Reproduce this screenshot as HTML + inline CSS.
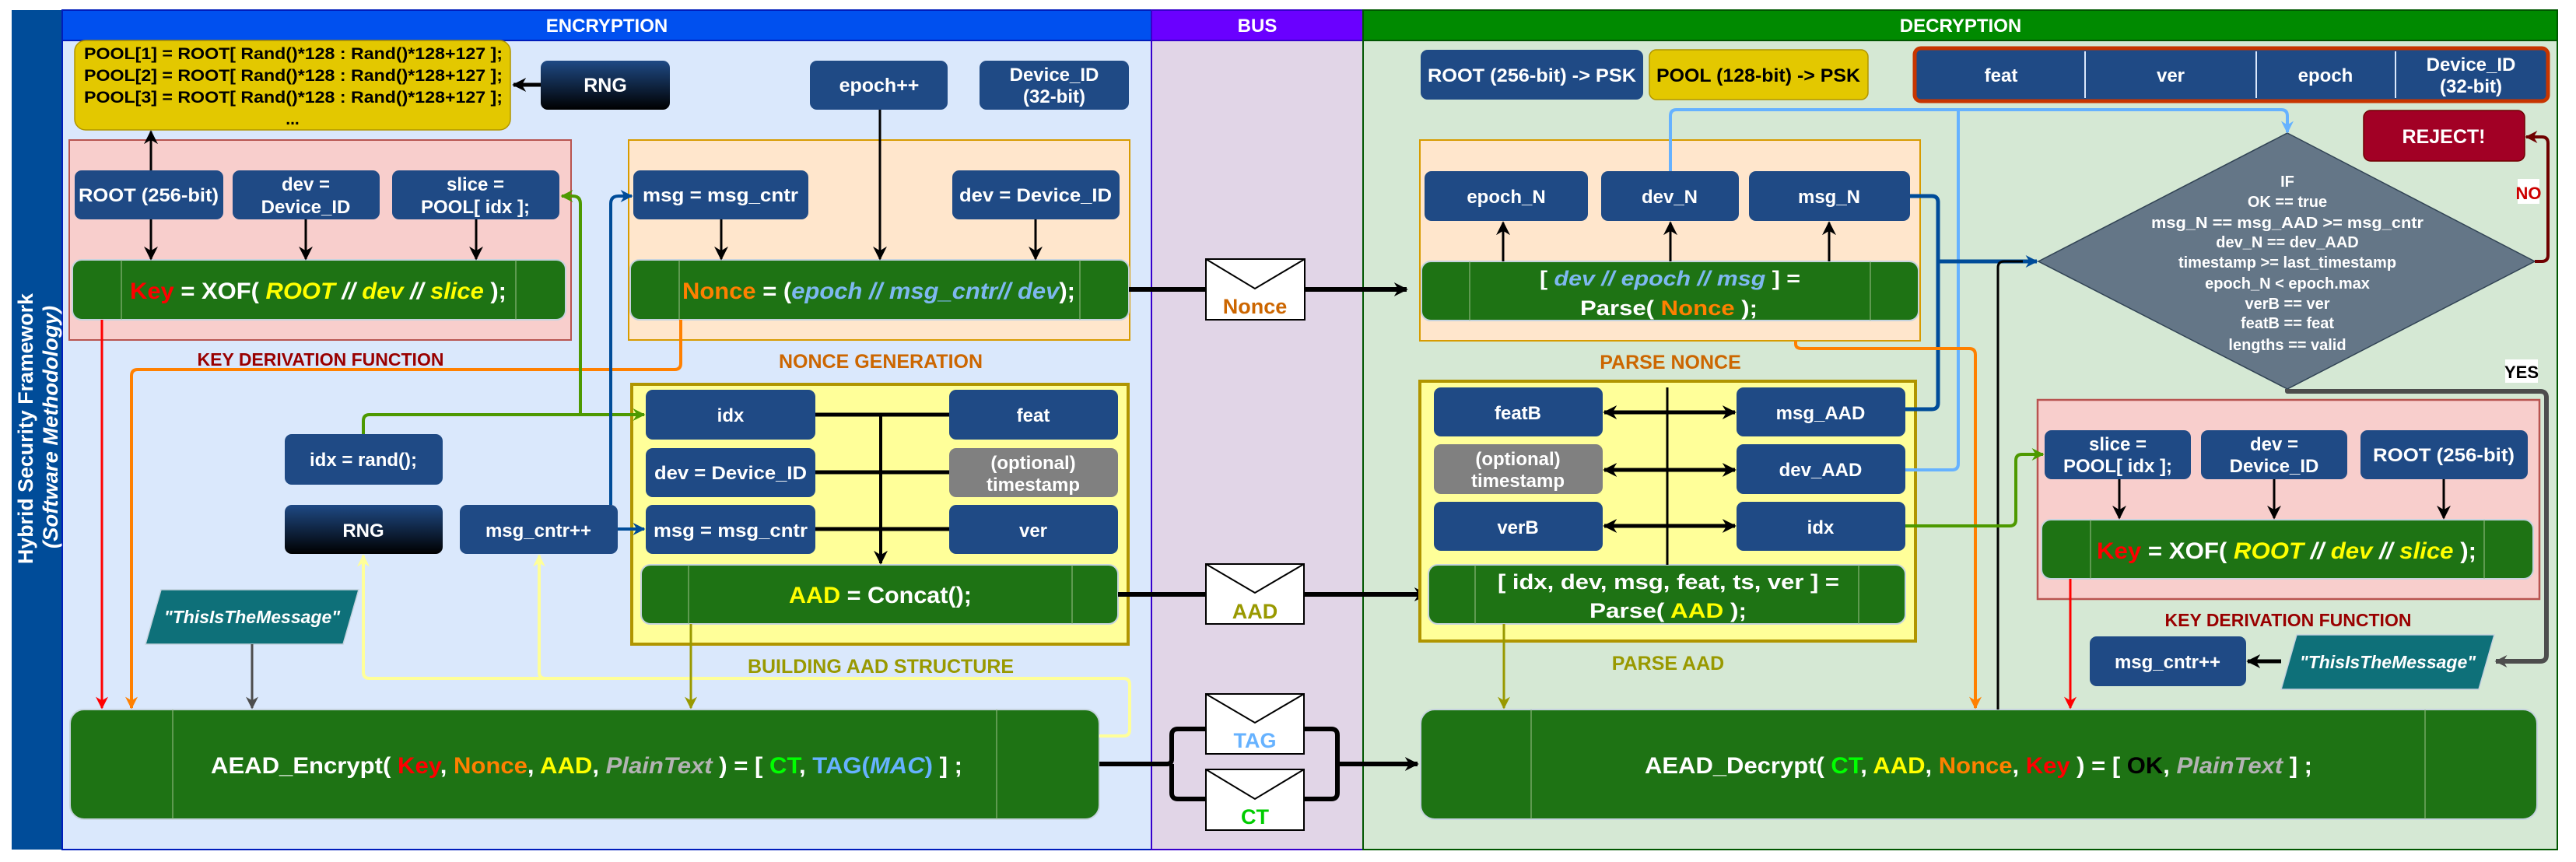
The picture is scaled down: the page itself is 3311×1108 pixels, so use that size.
<!DOCTYPE html>
<html><head><meta charset="utf-8"><style>
html,body{margin:0;padding:0;background:#fff}
svg{display:block}
text{font-family:"Liberation Sans",Arial,sans-serif;font-weight:bold}
.w{fill:#fff}
</style></head><body>
<svg width="3311" height="1108" viewBox="0 0 3311 1108" xmlns="http://www.w3.org/2000/svg">
<defs>
<marker id="mk" viewBox="0 0 10 10" refX="9" refY="5" markerWidth="18" markerHeight="20" orient="auto-start-reverse" markerUnits="userSpaceOnUse"><path d="M0,0 L10,5 L0,10 L3,5 z" fill="#000"/></marker>
<marker id="mr" viewBox="0 0 10 10" refX="9" refY="5" markerWidth="16" markerHeight="18" orient="auto" markerUnits="userSpaceOnUse"><path d="M0,0 L10,5 L0,10 L3,5 z" fill="#f00"/></marker>
<marker id="mo" viewBox="0 0 10 10" refX="9" refY="5" markerWidth="16" markerHeight="18" orient="auto" markerUnits="userSpaceOnUse"><path d="M0,0 L10,5 L0,10 L3,5 z" fill="#FF8000"/></marker>
<marker id="mol" viewBox="0 0 10 10" refX="9" refY="5" markerWidth="16" markerHeight="18" orient="auto" markerUnits="userSpaceOnUse"><path d="M0,0 L10,5 L0,10 L3,5 z" fill="#999900"/></marker>
<marker id="mg" viewBox="0 0 10 10" refX="9" refY="5" markerWidth="16" markerHeight="18" orient="auto" markerUnits="userSpaceOnUse"><path d="M0,0 L10,5 L0,10 L3,5 z" fill="#4D4D4D"/></marker>
<marker id="my" viewBox="0 0 10 10" refX="9" refY="5" markerWidth="16" markerHeight="18" orient="auto" markerUnits="userSpaceOnUse"><path d="M0,0 L10,5 L0,10 L3,5 z" fill="#FFFF99"/></marker>
<marker id="mgr" viewBox="0 0 10 10" refX="9" refY="5" markerWidth="16" markerHeight="18" orient="auto" markerUnits="userSpaceOnUse"><path d="M0,0 L10,5 L0,10 L3,5 z" fill="#4D9900"/></marker>
<marker id="mb" viewBox="0 0 10 10" refX="9" refY="5" markerWidth="16" markerHeight="18" orient="auto" markerUnits="userSpaceOnUse"><path d="M0,0 L10,5 L0,10 L3,5 z" fill="#004C99"/></marker>
<marker id="mlb" viewBox="0 0 10 10" refX="9" refY="5" markerWidth="16" markerHeight="18" orient="auto" markerUnits="userSpaceOnUse"><path d="M0,0 L10,5 L0,10 L3,5 z" fill="#66B2FF"/></marker>
<marker id="mdr" viewBox="0 0 10 10" refX="9" refY="5" markerWidth="16" markerHeight="18" orient="auto" markerUnits="userSpaceOnUse"><path d="M0,0 L10,5 L0,10 L3,5 z" fill="#6F0000"/></marker>
<linearGradient id="rng" x1="0" y1="0" x2="0" y2="1"><stop offset="0" stop-color="#1F4A85"/><stop offset="1" stop-color="#000"/></linearGradient>
</defs>

<rect x="15" y="13" width="65" height="1079" fill="#004C99"/>
<rect x="80" y="13" width="1400" height="39" fill="#0050EF" stroke="#001DBC" stroke-width="2"/>
<rect x="80" y="52" width="1400" height="1040" fill="#DAE8FC" stroke="#001DBC" stroke-width="2"/>
<rect x="1480" y="13" width="272" height="39" fill="#6A00FF" stroke="#3700CC" stroke-width="2"/>
<rect x="1480" y="52" width="272" height="1040" fill="#E1D5E7" stroke="#3700CC" stroke-width="2"/>
<rect x="1752" y="13" width="1535" height="39" fill="#008A00" stroke="#005700" stroke-width="2"/>
<rect x="1752" y="52" width="1535" height="1040" fill="#D5E8D4" stroke="#005700" stroke-width="2"/>
<text x="780" y="41" class="w" font-size="24" text-anchor="middle">ENCRYPTION</text>
<text x="1616" y="41" class="w" font-size="24" text-anchor="middle">BUS</text>
<text x="2520" y="41" class="w" font-size="24" text-anchor="middle">DECRYPTION</text>
<text transform="translate(42,551) rotate(-90)" class="w" font-size="27" text-anchor="middle" textLength="348" lengthAdjust="spacingAndGlyphs">Hybrid Security Framework</text>
<text transform="translate(74,549) rotate(-90)" class="w" font-size="27" font-style="italic" text-anchor="middle" textLength="312" lengthAdjust="spacingAndGlyphs">(Software Methodology)</text>

<rect x="96" y="52" width="560" height="115" rx="14" fill="#E3C800" stroke="#B09500" stroke-width="1.5"/>
<g font-size="21" fill="#000">
<text x="108" y="76" textLength="538" lengthAdjust="spacingAndGlyphs">POOL[1] = ROOT[ Rand()*128 : Rand()*128+127 ];</text>
<text x="108" y="104" textLength="538" lengthAdjust="spacingAndGlyphs">POOL[2] = ROOT[ Rand()*128 : Rand()*128+127 ];</text>
<text x="108" y="132" textLength="538" lengthAdjust="spacingAndGlyphs">POOL[3] = ROOT[ Rand()*128 : Rand()*128+127 ];</text>
<text x="376" y="160" text-anchor="middle">...</text>
</g>
<rect x="695" y="78" width="166" height="63" rx="9" fill="url(#rng)"/>
<text x="778" y="118" class="w" font-size="25" text-anchor="middle">RNG</text>
<rect x="1041" y="78" width="177" height="63" rx="9" fill="#1F4A85"/>
<text x="1130" y="118" class="w" font-size="25" text-anchor="middle">epoch++</text>
<rect x="1259" y="78" width="192" height="63" rx="9" fill="#1F4A85"/>
<text x="1355" y="104" class="w" font-size="24" text-anchor="middle">Device_ID</text>
<text x="1355" y="132" class="w" font-size="24" text-anchor="middle">(32-bit)</text>

<rect x="89" y="180" width="645" height="257" fill="#F8CECC" stroke="#B85450" stroke-width="2"/>
<rect x="96" y="219" width="191" height="63" rx="9" fill="#1F4A85"/>
<text x="191" y="259" class="w" font-size="24" text-anchor="middle" textLength="180" lengthAdjust="spacingAndGlyphs">ROOT (256-bit)</text>
<rect x="299" y="219" width="189" height="63" rx="9" fill="#1F4A85"/>
<text x="393" y="245" class="w" font-size="24" text-anchor="middle">dev =</text>
<text x="393" y="274" class="w" font-size="24" text-anchor="middle">Device_ID</text>
<rect x="504" y="219" width="215" height="63" rx="9" fill="#1F4A85"/>
<text x="611" y="245" class="w" font-size="24" text-anchor="middle">slice =</text>
<text x="611" y="274" class="w" font-size="24" text-anchor="middle">POOL[ idx ];</text>
<rect x="93" y="334" width="634" height="77" rx="12" fill="#1E7314" stroke="#C6D3DE" stroke-width="2"/>
<line x1="156" y1="334" x2="156" y2="411" stroke="#9DC08B" stroke-width="1"/>
<line x1="663" y1="334" x2="663" y2="411" stroke="#9DC08B" stroke-width="1"/>
<text x="167" y="384" font-size="30" textLength="484" lengthAdjust="spacingAndGlyphs"><tspan fill="#f00">Key</tspan><tspan fill="#fff"> = XOF( </tspan><tspan fill="#ff0" font-style="italic">ROOT </tspan><tspan fill="#fff" font-style="italic">// </tspan><tspan fill="#ff0" font-style="italic"> dev </tspan><tspan fill="#fff" font-style="italic">// </tspan><tspan fill="#ff0" font-style="italic">slice</tspan><tspan fill="#fff"> );</tspan></text>
<text x="412" y="470" font-size="23" fill="#990000" text-anchor="middle">KEY DERIVATION FUNCTION</text>

<rect x="808" y="180" width="644" height="257" fill="#FFE6CC" stroke="#D79B00" stroke-width="2"/>
<rect x="814" y="219" width="225" height="63" rx="9" fill="#1F4A85"/>
<text x="926" y="259" class="w" font-size="24" text-anchor="middle" textLength="200" lengthAdjust="spacingAndGlyphs">msg = msg_cntr</text>
<rect x="1224" y="219" width="215" height="63" rx="9" fill="#1F4A85"/>
<text x="1331" y="259" class="w" font-size="24" text-anchor="middle" textLength="196" lengthAdjust="spacingAndGlyphs">dev = Device_ID</text>
<rect x="810" y="334" width="641" height="77" rx="12" fill="#1E7314" stroke="#C6D3DE" stroke-width="2"/>
<line x1="873" y1="334" x2="873" y2="411" stroke="#9DC08B" stroke-width="1"/>
<line x1="1388" y1="334" x2="1388" y2="411" stroke="#9DC08B" stroke-width="1"/>
<text x="877" y="384" font-size="30" textLength="505" lengthAdjust="spacingAndGlyphs"><tspan fill="#FF8000">Nonce</tspan><tspan fill="#fff"> = (</tspan><tspan fill="#7EB8F0" font-style="italic">epoch //  msg_cntr// dev</tspan><tspan fill="#fff">);</tspan></text>
<text x="1132" y="473" font-size="25" fill="#CC6600" text-anchor="middle">NONCE GENERATION</text>

<rect x="812" y="494" width="638" height="334" fill="#FFFF99" stroke="#B09500" stroke-width="4"/>
<g font-size="24" class="w" text-anchor="middle">
<rect x="830" y="501" width="218" height="64" rx="9" fill="#1F4A85"/><text x="939" y="542" class="w">idx</text>
<rect x="1220" y="501" width="217" height="64" rx="9" fill="#1F4A85"/><text x="1328" y="542" class="w">feat</text>
<rect x="830" y="576" width="218" height="63" rx="9" fill="#1F4A85"/><text x="939" y="616" class="w" textLength="196" lengthAdjust="spacingAndGlyphs">dev = Device_ID</text>
<rect x="1220" y="576" width="217" height="63" rx="9" fill="#808080"/><text x="1328" y="603" class="w">(optional)</text><text x="1328" y="631" class="w">timestamp</text>
<rect x="830" y="649" width="218" height="63" rx="9" fill="#1F4A85"/><text x="939" y="690" class="w" textLength="198" lengthAdjust="spacingAndGlyphs">msg = msg_cntr</text>
<rect x="1220" y="649" width="217" height="63" rx="9" fill="#1F4A85"/><text x="1328" y="690" class="w">ver</text>
<rect x="366" y="558" width="203" height="65" rx="9" fill="#1F4A85"/><text x="467" y="599" class="w">idx = rand();</text>
<rect x="366" y="649" width="203" height="63" rx="9" fill="url(#rng)"/><text x="467" y="690" class="w">RNG</text>
<rect x="591" y="649" width="203" height="63" rx="9" fill="#1F4A85"/><text x="692" y="690" class="w">msg_cntr++</text>
</g>
<rect x="824" y="726" width="613" height="76" rx="12" fill="#1E7314" stroke="#C6D3DE" stroke-width="2"/>
<line x1="885" y1="726" x2="885" y2="802" stroke="#9DC08B" stroke-width="1"/>
<line x1="1378" y1="726" x2="1378" y2="802" stroke="#9DC08B" stroke-width="1"/>
<text x="1014" y="775" font-size="30" textLength="235" lengthAdjust="spacingAndGlyphs"><tspan fill="#ff0">AAD</tspan><tspan fill="#fff"> = Concat();</tspan></text>
<text x="1132" y="865" font-size="25" fill="#999900" text-anchor="middle">BUILDING AAD STRUCTURE</text>

<polygon points="207,758 461,758 441,828 187,828" fill="#0E7079" stroke="#C6D3DE" stroke-width="1.5"/>
<text x="324" y="801" class="w" font-size="23" font-style="italic" text-anchor="middle">"ThisIsTheMessage"</text>

<rect x="90" y="912" width="1323" height="141" rx="18" fill="#1E7314" stroke="#C6D3DE" stroke-width="2"/>
<line x1="222" y1="912" x2="222" y2="1053" stroke="#9DC08B" stroke-width="1"/>
<line x1="1281" y1="912" x2="1281" y2="1053" stroke="#9DC08B" stroke-width="1"/>
<text x="271" y="994" font-size="30" textLength="966" lengthAdjust="spacingAndGlyphs"><tspan fill="#fff">AEAD_Encrypt( </tspan><tspan fill="#f00">Key</tspan><tspan fill="#fff">, </tspan><tspan fill="#FF8000">Nonce</tspan><tspan fill="#fff">, </tspan><tspan fill="#ff0">AAD</tspan><tspan fill="#fff">, </tspan><tspan fill="#B3B3B3" font-style="italic">PlainText</tspan><tspan fill="#fff"> ) = [ </tspan><tspan fill="#0f0">CT</tspan><tspan fill="#fff">, </tspan><tspan fill="#66B2FF">TAG(</tspan><tspan fill="#66B2FF" font-style="italic">MAC</tspan><tspan fill="#66B2FF">)</tspan><tspan fill="#fff"> ] ;</tspan></text>

<g fill="none" stroke-linejoin="round">
<path d="M695,109 H660" stroke="#000" stroke-width="5" marker-end="url(#mk)"/>
<path d="M194,219 V169" stroke="#000" stroke-width="3" marker-end="url(#mk)"/>
<path d="M194,282 V333" stroke="#000" stroke-width="3" marker-end="url(#mk)"/>
<path d="M393,282 V333" stroke="#000" stroke-width="3" marker-end="url(#mk)"/>
<path d="M612,282 V333" stroke="#000" stroke-width="3" marker-end="url(#mk)"/>
<path d="M927,282 V333" stroke="#000" stroke-width="3" marker-end="url(#mk)"/>
<path d="M1331,282 V333" stroke="#000" stroke-width="3" marker-end="url(#mk)"/>
<path d="M1131,141 V333" stroke="#000" stroke-width="3" marker-end="url(#mk)"/>
<path d="M131,411 V910" stroke="#f00" stroke-width="3" marker-end="url(#mr)"/>
<path d="M875,411 V467 Q875,475 867,475 H177 Q169,475 169,483 V910" stroke="#FF8000" stroke-width="4" marker-end="url(#mo)"/>
<path d="M467,558 V541 Q467,533 475,533 H828" stroke="#4D9900" stroke-width="4" marker-end="url(#mgr)"/>
<path d="M746,533 V262 Q746,252 736,252 H722" stroke="#4D9900" stroke-width="4" marker-end="url(#mgr)"/>
<path d="M785,649 V262 Q785,252 795,252 H812" stroke="#004C99" stroke-width="4" marker-end="url(#mb)"/>
<path d="M794,680 H828" stroke="#004C99" stroke-width="4" marker-end="url(#mb)"/>
<path d="M1413,946 H1444 Q1452,946 1452,938 V880 Q1452,872 1444,872 H475 Q467,872 467,864 V714" stroke="#FFFF99" stroke-width="4" marker-end="url(#my)"/>
<path d="M701,872 Q693,872 693,864 V714" stroke="#FFFF99" stroke-width="4" marker-end="url(#my)"/>
<path d="M324,828 V910" stroke="#4D4D4D" stroke-width="3" marker-end="url(#mg)"/>
<path d="M888,802 V910" stroke="#999900" stroke-width="3" marker-end="url(#mol)"/>
<path d="M1048,533 H1220 M1048,607 H1220 M1048,680 H1220" stroke="#000" stroke-width="5"/>
<path d="M1132,533 V724" stroke="#000" stroke-width="4" marker-end="url(#mk)"/>
</g>

<g fill="none" stroke-linejoin="round">
<path d="M1451,372 H1550 M1677,372 H1808" stroke="#000" stroke-width="6"/>
<path d="M1700,372 H1808" stroke="#000" stroke-width="6" marker-end="url(#mk)"/>
<path d="M1437,764 H1550 M1676,764 H1834" stroke="#000" stroke-width="6"/>
<path d="M1700,764 H1834" stroke="#000" stroke-width="6" marker-end="url(#mk)"/>
<path d="M1413,982 H1500 Q1506,982 1506,976 V945 Q1506,937 1514,937 H1550 M1506,982 V1019 Q1506,1027 1514,1027 H1550" stroke="#000" stroke-width="6"/>
<path d="M1676,937 H1711 Q1719,937 1719,945 V1019 Q1719,1027 1711,1027 H1676 M1719,982 H1822" stroke="#000" stroke-width="6"/>
<path d="M1740,982 H1822" stroke="#000" stroke-width="6" marker-end="url(#mk)"/>
</g>
<g stroke="#000" stroke-width="2" fill="#fff">
<rect x="1550" y="333" width="127" height="78"/><polyline points="1550,333 1613,371 1677,333" fill="none"/>
<rect x="1550" y="725" width="126" height="77"/><polyline points="1550,725 1613,762 1676,725" fill="none"/>
<rect x="1550" y="892" width="126" height="77"/><polyline points="1550,892 1613,929 1676,892" fill="none"/>
<rect x="1550" y="989" width="126" height="78"/><polyline points="1550,989 1613,1027 1676,989" fill="none"/>
</g>
<text x="1613" y="403" font-size="27" fill="#CC6600" text-anchor="middle">Nonce</text>
<text x="1613" y="795" font-size="27" fill="#999900" text-anchor="middle">AAD</text>
<text x="1613" y="961" font-size="27" fill="#66B2FF" text-anchor="middle">TAG</text>
<text x="1613" y="1059" font-size="27" fill="#00CC00" text-anchor="middle">CT</text>

<g font-size="24" text-anchor="middle">
<rect x="1826" y="64" width="286" height="64" rx="9" fill="#1F4A85"/><text x="1969" y="105" class="w" textLength="268" lengthAdjust="spacingAndGlyphs">ROOT (256-bit) -&gt; PSK</text>
<rect x="2120" y="64" width="281" height="64" rx="9" fill="#E3C800" stroke="#B09500" stroke-width="1.5"/><text x="2260" y="105" fill="#000" textLength="262" lengthAdjust="spacingAndGlyphs">POOL (128-bit) -&gt; PSK</text>
<rect x="2461" y="62" width="814" height="68" rx="8" fill="#1F4A85" stroke="#C73500" stroke-width="5"/>
<line x1="2680" y1="66" x2="2680" y2="126" stroke="#DAE8FC" stroke-width="2"/>
<line x1="2900" y1="66" x2="2900" y2="126" stroke="#DAE8FC" stroke-width="2"/>
<line x1="3079" y1="66" x2="3079" y2="126" stroke="#DAE8FC" stroke-width="2"/>
<text x="2572" y="105" class="w">feat</text><text x="2790" y="105" class="w">ver</text><text x="2989" y="105" class="w">epoch</text>
<text x="3176" y="91" class="w">Device_ID</text><text x="3176" y="119" class="w">(32-bit)</text>
<rect x="3038" y="142" width="207" height="65" rx="9" fill="#A20025" stroke="#6F0000" stroke-width="1.5"/><text x="3141" y="184" class="w" font-size="25">REJECT!</text>

<rect x="1825" y="180" width="643" height="258" fill="#FFE6CC" stroke="#D79B00" stroke-width="2"/>
<rect x="1831" y="220" width="210" height="64" rx="9" fill="#1F4A85"/><text x="1936" y="261" class="w">epoch_N</text>
<rect x="2058" y="220" width="177" height="64" rx="9" fill="#1F4A85"/><text x="2146" y="261" class="w">dev_N</text>
<rect x="2248" y="220" width="207" height="64" rx="9" fill="#1F4A85"/><text x="2351" y="261" class="w">msg_N</text>
</g>
<rect x="1827" y="336" width="639" height="76" rx="12" fill="#1E7314" stroke="#C6D3DE" stroke-width="2"/>
<line x1="1889" y1="336" x2="1889" y2="412" stroke="#9DC08B" stroke-width="1"/>
<line x1="2404" y1="336" x2="2404" y2="412" stroke="#9DC08B" stroke-width="1"/>
<text x="1979" y="367" font-size="27" textLength="335" lengthAdjust="spacingAndGlyphs"><tspan fill="#fff">[ </tspan><tspan fill="#7EB8F0" font-style="italic">dev // epoch // msg</tspan><tspan fill="#fff"> ] =</tspan></text>
<text x="2031" y="405" font-size="27" textLength="228" lengthAdjust="spacingAndGlyphs"><tspan fill="#fff">Parse( </tspan><tspan fill="#FF8000">Nonce</tspan><tspan fill="#fff"> );</tspan></text>
<text x="2147" y="474" font-size="25" fill="#CC6600" text-anchor="middle">PARSE NONCE</text>

<rect x="1825" y="490" width="637" height="334" fill="#FFFF99" stroke="#B09500" stroke-width="4"/>
<g font-size="24" text-anchor="middle">
<rect x="1843" y="498" width="217" height="63" rx="9" fill="#1F4A85"/><text x="1951" y="539" class="w">featB</text>
<rect x="2232" y="498" width="217" height="63" rx="9" fill="#1F4A85"/><text x="2340" y="539" class="w">msg_AAD</text>
<rect x="1843" y="571" width="217" height="64" rx="9" fill="#808080"/><text x="1951" y="598" class="w">(optional)</text><text x="1951" y="626" class="w">timestamp</text>
<rect x="2232" y="571" width="217" height="64" rx="9" fill="#1F4A85"/><text x="2340" y="612" class="w">dev_AAD</text>
<rect x="1843" y="645" width="217" height="63" rx="9" fill="#1F4A85"/><text x="1951" y="686" class="w">verB</text>
<rect x="2232" y="645" width="217" height="63" rx="9" fill="#1F4A85"/><text x="2340" y="686" class="w">idx</text>
</g>
<rect x="1836" y="726" width="613" height="76" rx="12" fill="#1E7314" stroke="#C6D3DE" stroke-width="2"/>
<line x1="1896" y1="726" x2="1896" y2="802" stroke="#9DC08B" stroke-width="1"/>
<line x1="2389" y1="726" x2="2389" y2="802" stroke="#9DC08B" stroke-width="1"/>
<text x="1925" y="757" font-size="27" fill="#fff" textLength="439" lengthAdjust="spacingAndGlyphs">[ idx, dev, msg, feat, ts, ver ] =</text>
<text x="2043" y="794" font-size="27" textLength="202" lengthAdjust="spacingAndGlyphs"><tspan fill="#fff">Parse( </tspan><tspan fill="#ff0">AAD</tspan><tspan fill="#fff"> );</tspan></text>
<text x="2144" y="861" font-size="25" fill="#999900" text-anchor="middle">PARSE AAD</text>

<polygon points="2940,171 3258,336 2940,500 2620,336" fill="#647687" stroke="#314354" stroke-width="1.5"/>
<g class="w" font-size="20" text-anchor="middle" fill="#fff">
<text x="2940" y="240">IF</text>
<text x="2940" y="266">OK == true</text>
<text x="2940" y="293" textLength="350" lengthAdjust="spacingAndGlyphs">msg_N == msg_AAD &gt;= msg_cntr</text>
<text x="2940" y="318">dev_N == dev_AAD</text>
<text x="2940" y="344">timestamp &gt;= last_timestamp</text>
<text x="2940" y="371">epoch_N &lt; epoch.max</text>
<text x="2940" y="397">verB == ver</text>
<text x="2940" y="422">featB == feat</text>
<text x="2940" y="450">lengths == valid</text>
</g>

<rect x="2619" y="514" width="645" height="256" fill="#F8CECC" stroke="#B85450" stroke-width="2.5"/>
<g font-size="24" text-anchor="middle">
<rect x="2628" y="553" width="188" height="63" rx="9" fill="#1F4A85"/><text x="2722" y="579" class="w">slice =</text><text x="2722" y="607" class="w">POOL[ idx ];</text>
<rect x="2829" y="553" width="188" height="63" rx="9" fill="#1F4A85"/><text x="2923" y="579" class="w">dev =</text><text x="2923" y="607" class="w">Device_ID</text>
<rect x="3034" y="553" width="215" height="63" rx="9" fill="#1F4A85"/><text x="3141" y="593" class="w" textLength="182" lengthAdjust="spacingAndGlyphs">ROOT (256-bit)</text>
</g>
<rect x="2624" y="668" width="632" height="76" rx="12" fill="#1E7314" stroke="#C6D3DE" stroke-width="2"/>
<line x1="2687" y1="668" x2="2687" y2="744" stroke="#9DC08B" stroke-width="1"/>
<line x1="3193" y1="668" x2="3193" y2="744" stroke="#9DC08B" stroke-width="1"/>
<text x="2695" y="718" font-size="30" textLength="488" lengthAdjust="spacingAndGlyphs"><tspan fill="#f00">Key</tspan><tspan fill="#fff"> = XOF( </tspan><tspan fill="#ff0" font-style="italic">ROOT </tspan><tspan fill="#fff" font-style="italic">// </tspan><tspan fill="#ff0" font-style="italic"> dev </tspan><tspan fill="#fff" font-style="italic">// </tspan><tspan fill="#ff0" font-style="italic">slice</tspan><tspan fill="#fff"> );</tspan></text>
<text x="2941" y="805" font-size="23" fill="#990000" text-anchor="middle">KEY DERIVATION FUNCTION</text>
<rect x="2686" y="818" width="201" height="64" rx="9" fill="#1F4A85"/><text x="2786" y="859" class="w" font-size="24" text-anchor="middle">msg_cntr++</text>
<polygon points="2952,816 3206,816 3186,886 2932,886" fill="#0E7079" stroke="#C6D3DE" stroke-width="1.5"/>
<text x="3069" y="859" class="w" font-size="23" font-style="italic" text-anchor="middle">"ThisIsTheMessage"</text>

<rect x="1826" y="912" width="1435" height="141" rx="18" fill="#1E7314" stroke="#C6D3DE" stroke-width="2"/>
<line x1="1968" y1="912" x2="1968" y2="1053" stroke="#9DC08B" stroke-width="1"/>
<line x1="3117" y1="912" x2="3117" y2="1053" stroke="#9DC08B" stroke-width="1"/>
<text x="2114" y="994" font-size="30" textLength="858" lengthAdjust="spacingAndGlyphs"><tspan fill="#fff">AEAD_Decrypt( </tspan><tspan fill="#0f0">CT</tspan><tspan fill="#fff">, </tspan><tspan fill="#ff0">AAD</tspan><tspan fill="#fff">, </tspan><tspan fill="#FF8000">Nonce</tspan><tspan fill="#fff">, </tspan><tspan fill="#f00">Key</tspan><tspan fill="#fff"> ) = [ </tspan><tspan fill="#000">OK</tspan><tspan fill="#fff">, </tspan><tspan fill="#B3B3B3" font-style="italic">PlainText</tspan><tspan fill="#fff"> ] ;</tspan></text>

<g fill="none" stroke-linejoin="round">
<path d="M1932,336 V286" stroke="#000" stroke-width="3" marker-end="url(#mk)"/>
<path d="M2147,336 V286" stroke="#000" stroke-width="3" marker-end="url(#mk)"/>
<path d="M2351,336 V286" stroke="#000" stroke-width="3" marker-end="url(#mk)"/>
<path d="M2147,220 V149 Q2147,141 2155,141 H2932 Q2940,141 2940,149 V170" stroke="#66B2FF" stroke-width="4" marker-end="url(#mlb)"/>
<path d="M2449,604 H2509 Q2517,604 2517,596 V141" stroke="#66B2FF" stroke-width="4"/>
<path d="M2455,252 H2483 Q2491,252 2491,260 V336 H2618" stroke="#004C99" stroke-width="5" marker-end="url(#mb)"/>
<path d="M2449,526 H2483 Q2491,526 2491,518 V336" stroke="#004C99" stroke-width="5"/>
<path d="M2308,438 V442 Q2308,448 2316,448 H2531 Q2539,448 2539,456 V910" stroke="#FF8000" stroke-width="4" marker-end="url(#mo)"/>
<path d="M2568,912 V344 Q2568,336 2576,336 H2600" stroke="#000" stroke-width="3"/>
<path d="M3258,336 H3267 Q3275,336 3275,328 V184 Q3275,176 3267,176 H3247" stroke="#6F0000" stroke-width="4" marker-end="url(#mdr)"/>
<path d="M2940,500 V503 H3265 Q3273,503 3273,511 V842 Q3273,850 3265,850 H3208" stroke="#4D4D4D" stroke-width="6" marker-end="url(#mg)"/>
<path d="M2143,498 V726" stroke="#000" stroke-width="3"/>
<path d="M2062,530 H2230" stroke="#000" stroke-width="5" marker-start="url(#mk)" marker-end="url(#mk)"/>
<path d="M2062,604 H2230" stroke="#000" stroke-width="5" marker-start="url(#mk)" marker-end="url(#mk)"/>
<path d="M2062,676 H2230" stroke="#000" stroke-width="5" marker-start="url(#mk)" marker-end="url(#mk)"/>
<path d="M1933,802 V910" stroke="#999900" stroke-width="3" marker-end="url(#mol)"/>
<path d="M2449,676 H2583 Q2591,676 2591,668 V592 Q2591,584 2599,584 H2626" stroke="#4D9900" stroke-width="4" marker-end="url(#mgr)"/>
<path d="M2724,616 V666" stroke="#000" stroke-width="3" marker-end="url(#mk)"/>
<path d="M2923,616 V666" stroke="#000" stroke-width="3" marker-end="url(#mk)"/>
<path d="M3141,616 V666" stroke="#000" stroke-width="3" marker-end="url(#mk)"/>
<path d="M2661,744 V910" stroke="#f00" stroke-width="3" marker-end="url(#mr)"/>
<path d="M2932,850 H2889" stroke="#000" stroke-width="5" marker-end="url(#mk)"/>
</g>
<rect x="3236" y="230" width="28" height="32" fill="#fff"/>
<text x="3250" y="256" font-size="22" fill="#CC0000" text-anchor="middle">NO</text>
<rect x="3220" y="462" width="42" height="30" fill="#fff"/>
<text x="3241" y="486" font-size="22" fill="#000" text-anchor="middle">YES</text>
</svg>
</body></html>
